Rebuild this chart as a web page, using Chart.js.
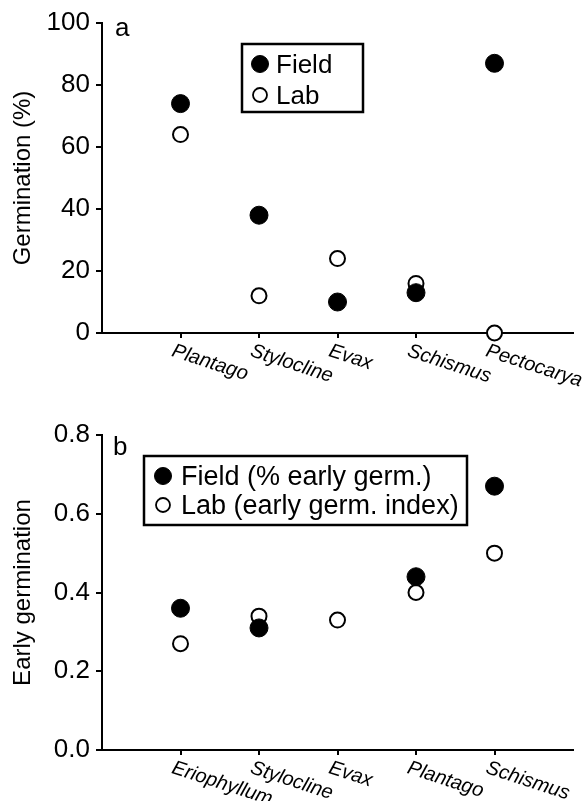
<!DOCTYPE html>
<html>
<head>
<meta charset="utf-8">
<script src="https://cdn.jsdelivr.net/npm/chart.js@4/dist/chart.umd.min.js"></script>
<style>
  body { margin: 0; background: #fff; }
  .panel { position: relative; width: 583px; }
</style>
</head>
<body>
<div class="panel" style="height:400px"><canvas id="chartA"></canvas></div>
<div class="panel" style="height:401px"><canvas id="chartB"></canvas></div>
<script>
// Panel a - germination percentage
const categoriesA = ['Plantago', 'Stylocline', 'Evax', 'Schismus', 'Pectocarya'];
const fieldA = [74, 38, 10, 13, 87];
const labA = [64, 12, 24, 16, 0];
const yTicksA = [0, 20, 40, 60, 80, 100];

// Panel b - early germination
const categoriesB = ['Eriophyllum', 'Stylocline', 'Evax', 'Plantago', 'Schismus'];
const fieldB = [0.36, 0.31, null, 0.44, 0.67];
const labB = [0.27, 0.34, 0.33, 0.40, 0.50];
const yTicksB = [0, 0.2, 0.4, 0.6, 0.8];

const FONT = '"Liberation Sans", Arial, Helvetica, sans-serif';

function toPoints(values) {
    return values.map((v, i) => ({ x: i + 1, y: v }));
}

// letter, boxed legend and slanted italic category labels
function panelDecor(opts) {
    return {
        id: 'panelDecor',
        afterDraw(chart) {
            let ctx = chart.ctx;
            let xs = chart.scales.x;
            let bottom = chart.chartArea.bottom;
            ctx.save();
            ctx.fillStyle = '#000';

            // category labels, rotated clockwise
            ctx.font = 'italic 20px ' + FONT;
            ctx.textAlign = 'left';
            ctx.textBaseline = 'top';
            opts.categories.forEach((c, i) => {
                let px = xs.getPixelForValue(i + 1);
                ctx.save();
                ctx.translate(px - 5, bottom + 8);
                ctx.rotate(18 * Math.PI / 180);
                ctx.fillText(c, 0, 0);
                ctx.restore();
            });

            // panel letter
            ctx.font = '26px ' + FONT;
            ctx.textBaseline = 'alphabetic';
            ctx.fillText(opts.letter, opts.letterX, opts.letterY);

            // legend box
            let b = opts.box;
            ctx.lineWidth = 2.5;
            ctx.strokeStyle = '#000';
            ctx.strokeRect(b.x, b.y, b.w, b.h);
            ctx.font = b.font + 'px ' + FONT;
            chart.data.datasets.forEach((ds, i) => {
                let cy = b.y + b.first + i * b.step;
                ctx.beginPath();
                ctx.arc(b.x + b.dotX, cy, i === 0 ? 8.5 : 7, 0, Math.PI * 2);
                ctx.fillStyle = ds.backgroundColor;
                ctx.fill();
                ctx.lineWidth = i === 0 ? 1 : 1.8;
                ctx.strokeStyle = ds.borderColor;
                ctx.stroke();
                ctx.fillStyle = '#000';
                ctx.fillText(ds.label, b.x + b.textX, cy + 9);
            });
            ctx.restore();
        }
    };
}

function makeChart(id, cfg) {
    let ctx = document.getElementById(id).getContext('2d');
    return new Chart(ctx, {
        type: 'scatter',
        data: {
            datasets: [{
                label: cfg.labels[0],
                data: toPoints(cfg.field),
                backgroundColor: '#000',
                borderColor: '#000',
                borderWidth: 1,
                pointRadius: 9,
                clip: false
            }, {
                label: cfg.labels[1],
                data: toPoints(cfg.lab),
                backgroundColor: '#fff',
                borderColor: '#000',
                borderWidth: 2,
                pointRadius: 7.5,
                clip: false
            }]
        },
        options: {
            responsive: true,
            maintainAspectRatio: false,
            animation: false,
            layout: { padding: { top: cfg.top, right: 10, left: 0, bottom: 0 } },
            plugins: { legend: { display: false }, tooltip: { enabled: false } },
            scales: {
                x: {
                    type: 'linear',
                    min: 0,
                    max: 6,
                    afterBuildTicks: s => { s.ticks = cfg.categories.map((c, i) => ({ value: i + 1 })); },
                    afterFit: s => { s.height = cfg.xHeight; },
                    ticks: { callback: () => '' },
                    border: { color: '#000', width: 2 },
                    grid: { drawOnChartArea: false, drawTicks: true, tickLength: 5, color: '#000', lineWidth: 2 }
                },
                y: {
                    min: cfg.yTicks[0],
                    max: cfg.yTicks[cfg.yTicks.length - 1],
                    afterBuildTicks: s => { s.ticks = cfg.yTicks.map(v => ({ value: v })); },
                    afterFit: s => { s.width = 102; },
                    ticks: {
                        padding: 6,
                        color: '#000',
                        font: { family: FONT, size: 26 },
                        callback: v => cfg.fmt(v)
                    },
                    title: {
                        display: true,
                        text: cfg.yTitle,
                        color: '#000',
                        font: { family: FONT, size: 24 },
                        padding: { top: 9, bottom: 0 }
                    },
                    border: { color: '#000', width: 2 },
                    grid: { drawOnChartArea: false, drawTicks: true, tickLength: 6, color: '#000', lineWidth: 2 }
                }
            }
        },
        plugins: [panelDecor({
            categories: cfg.categories,
            letter: cfg.letter,
            letterX: cfg.letterX,
            letterY: cfg.letterY,
            box: cfg.box
        })]
    });
}

makeChart('chartA', {
    categories: categoriesA,
    field: fieldA,
    lab: labA,
    yTicks: yTicksA,
    labels: ['Field', 'Lab'],
    yTitle: 'Germination (%)',
    fmt: v => String(v),
    top: 23,
    xHeight: 67,
    letter: 'a', letterX: 115, letterY: 36,
    box: { x: 242, y: 44, w: 121, h: 68, dotX: 18, textX: 34, first: 20, step: 31, font: 26 }
});

makeChart('chartB', {
    categories: categoriesB,
    field: fieldB,
    lab: labB,
    yTicks: yTicksB,
    labels: ['Field (% early germ.)', 'Lab (early germ. index)'],
    yTitle: 'Early germination',
    fmt: v => v.toFixed(1),
    top: 35,
    xHeight: 51,
    letter: 'b', letterX: 113, letterY: 55,
    box: { x: 144, y: 56, w: 323, h: 69, dotX: 19, textX: 37, first: 20, step: 29, font: 27 }
});
</script>
</body>
</html>
